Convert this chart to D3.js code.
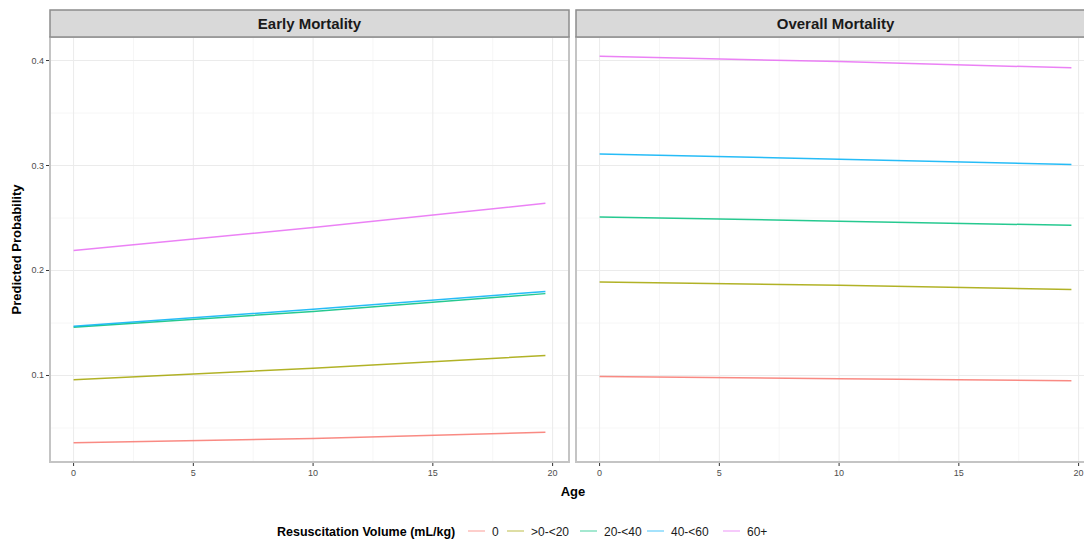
<!DOCTYPE html>
<meta charset="utf-8">
<style>
body { margin: 0; background: #fff; }
text { font-family: "Liberation Sans", Arial, sans-serif; }
.grid-major { stroke: #ebebeb; stroke-width: 1px; }
.grid-minor { stroke: #f4f4f4; stroke-width: 0.8px; }
.tick-label { fill: #4d4d4d; font-size: 9px; }
</style>
<body>
<script src="https://d3js.org/d3.v7.min.js"></script>
<script>

// ---- data ----
var panels = ["Early Mortality", "Overall Mortality"];
var groups = ["0", ">0-<20", "20-<40", "40-<60", "60+"];
var colors = ["#F8766D", "#A3A500", "#00BF7D", "#00B0F6", "#E76BF3"];
var ages = [0, 10, 19.7];

var early0    = [0.036, 0.040, 0.046];
var early20   = [0.096, 0.107, 0.119];
var early40   = [0.146, 0.161, 0.178];
var early60   = [0.147, 0.163, 0.180];
var early60p  = [0.219, 0.241, 0.264];

var overall0   = [0.099, 0.097, 0.095];
var overall20  = [0.189, 0.186, 0.182];
var overall40  = [0.251, 0.247, 0.243];
var overall60  = [0.311, 0.306, 0.301];
var overall60p = [0.404, 0.399, 0.393];

var xTicks = [0, 5, 10, 15, 20];
var xMinor = [2.5, 7.5, 12.5, 17.5];
var yTicks = [0.1, 0.2, 0.3, 0.4];
var yMinor = [0.05, 0.15, 0.25, 0.35];

var series = [
  [early0, early20, early40, early60, early60p],
  [overall0, overall20, overall40, overall60, overall60p]
];

// ---- layout ----
var width = 1084, height = 540;
var panelTop = 37, panelBottom = 462, stripTop = 10;
var panelLefts = [50, 576], panelW = 519;

var svg = d3.select("body").append("svg")
    .attr("width", width)
    .attr("height", height);

var allVals = d3.merge(series.map(function(s) { return d3.merge(s); }));
var yExt = d3.extent(allVals), yPad = (yExt[1] - yExt[0]) * 0.05;
var y = d3.scaleLinear()
    .domain([yExt[0] - yPad, yExt[1] + yPad])
    .range([panelBottom, panelTop]);

var xExt = d3.extent(ages), xPad = (xExt[1] - xExt[0]) * 0.05;

panels.forEach(function(name, p) {
  var x0 = panelLefts[p];
  var x = d3.scaleLinear()
      .domain([xExt[0] - xPad, xExt[1] + xPad])
      .range([x0, x0 + panelW]);

  var g = svg.append("g");

  // grid
  g.selectAll(".ymin").data(yMinor).enter().append("line")
      .attr("class", "grid-minor")
      .attr("x1", x0).attr("x2", x0 + panelW)
      .attr("y1", y).attr("y2", y);
  g.selectAll(".xmin").data(xMinor).enter().append("line")
      .attr("class", "grid-minor")
      .attr("x1", x).attr("x2", x)
      .attr("y1", panelTop).attr("y2", panelBottom);
  g.selectAll(".ymaj").data(yTicks).enter().append("line")
      .attr("class", "grid-major")
      .attr("x1", x0).attr("x2", x0 + panelW)
      .attr("y1", y).attr("y2", y);
  g.selectAll(".xmaj").data(xTicks).enter().append("line")
      .attr("class", "grid-major")
      .attr("x1", x).attr("x2", x)
      .attr("y1", panelTop).attr("y2", panelBottom);

  // lines
  var line = d3.line()
      .x(function(d, i) { return x(ages[i]); })
      .y(function(d) { return y(d); })
      .curve(d3.curveMonotoneX);

  series[p].forEach(function(vals, i) {
    g.append("path")
        .datum(vals)
        .attr("fill", "none")
        .attr("stroke", colors[i])
        .attr("stroke-opacity", 0.85)
        .attr("stroke-width", 1.5)
        .attr("d", line);
  });

  // panel border
  g.append("rect")
      .attr("x", x0).attr("y", panelTop)
      .attr("width", panelW).attr("height", panelBottom - panelTop)
      .attr("fill", "none")
      .attr("stroke", "#c4c4c4")
      .attr("stroke-width", 2);

  // strip
  g.append("rect")
      .attr("x", x0).attr("y", stripTop)
      .attr("width", panelW).attr("height", panelTop - stripTop)
      .attr("fill", "#d9d9d9")
      .attr("stroke", "#8c8c8c")
      .attr("stroke-width", 1.5);
  g.append("text")
      .attr("x", x0 + panelW / 2)
      .attr("y", (stripTop + panelTop) / 2 + 5)
      .attr("text-anchor", "middle")
      .style("font-size", "15px")
      .style("font-weight", "bold")
      .style("fill", "#1a1a1a")
      .text(name);

  // x axis
  g.selectAll(".xt").data(xTicks).enter().append("line")
      .attr("x1", x).attr("x2", x)
      .attr("y1", panelBottom + 1).attr("y2", panelBottom + 4)
      .attr("stroke", "#333").attr("stroke-width", 1);
  g.selectAll(".xl").data(xTicks).enter().append("text")
      .attr("class", "tick-label")
      .attr("x", x).attr("y", panelBottom + 14)
      .attr("text-anchor", "middle")
      .text(function(d) { return d; });

  // y axis on first panel only
  if (p === 0) {
    g.selectAll(".yt").data(yTicks).enter().append("line")
        .attr("x1", x0 - 4).attr("x2", x0 - 1)
        .attr("y1", y).attr("y2", y)
        .attr("stroke", "#333").attr("stroke-width", 1);
    g.selectAll(".yl").data(yTicks).enter().append("text")
        .attr("class", "tick-label")
        .attr("x", x0 - 6).attr("y", function(d) { return y(d) + 3; })
        .attr("text-anchor", "end")
        .text(d3.format(".1f"));
  }
});

// axis titles
svg.append("text")
    .attr("x", 573).attr("y", 496)
    .attr("text-anchor", "middle")
    .style("font-size", "13px").style("font-weight", "bold")
    .text("Age");

svg.append("text")
    .attr("transform", "translate(21," + ((panelTop + panelBottom) / 2) + ") rotate(-90)")
    .attr("text-anchor", "middle")
    .style("font-size", "13px").style("font-weight", "bold")
    .text("Predicted Probability");

// legend
var legend = svg.append("g").attr("transform", "translate(0,531)");
legend.append("text")
    .attr("x", 277).attr("y", 5)
    .style("font-size", "12.5px").style("font-weight", "bold")
    .text("Resuscitation Volume (mL/kg)");

var keyX = [468, 507, 580, 647, 723];
groups.forEach(function(gname, i) {
  legend.append("line")
      .attr("x1", keyX[i]).attr("x2", keyX[i] + 17)
      .attr("y1", 0).attr("y2", 0)
      .attr("stroke", colors[i])
      .attr("stroke-opacity", 0.45)
      .attr("stroke-width", 1.6);
  legend.append("text")
      .attr("x", keyX[i] + 24).attr("y", 5)
      .style("font-size", "12px").style("fill", "#1a1a1a")
      .text(gname);
});

</script>
</body>
